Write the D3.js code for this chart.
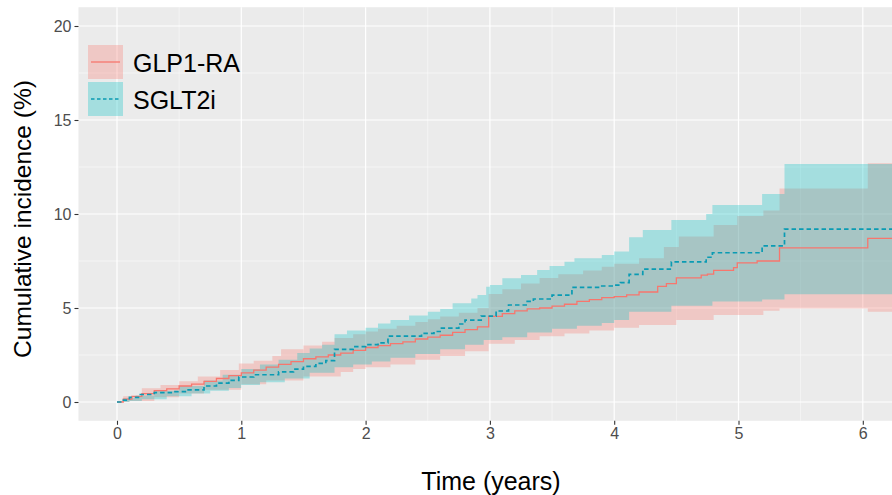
<!DOCTYPE html>
<html>
<head>
<meta charset="utf-8">
<script src="https://cdn.jsdelivr.net/npm/d3@7"></script>
<style>
  body { margin: 0; background: #fff; }
  svg { display: block; font-family: "Liberation Sans", Arial, sans-serif; }
</style>
</head>
<body>
<svg id="chart" width="892" height="495"></svg>
<script>
// cumulative incidence, step values (time in years, value in %)
const seriesNames = ["GLP1-RA", "SGLT2i"];

const glpEstTime = [0, 0.05, 0.12, 0.2, 0.3, 0.4, 0.5, 0.6, 0.7, 0.8, 0.9, 1.0, 1.1, 1.2, 1.3, 1.4, 1.5, 1.6, 1.7, 1.8, 1.9, 2.0, 2.1, 2.2, 2.3, 2.4, 2.5, 2.6, 2.7, 2.8, 2.9, 2.99, 3.1, 3.2, 3.3, 3.4, 3.5, 3.6, 3.7, 3.8, 3.9, 4.0, 4.1, 4.2, 4.35, 4.42, 4.5, 4.7, 4.75, 4.8, 4.96, 4.99, 5.15, 5.33, 6.04, 6.4];
const glpEst = [0, 0.15, 0.3, 0.45, 0.6, 0.7, 0.85, 0.95, 1.1, 1.25, 1.4, 1.55, 1.7, 1.85, 2.0, 2.15, 2.3, 2.4, 2.5, 2.6, 2.75, 2.9, 3.0, 3.1, 3.2, 3.35, 3.45, 3.55, 3.7, 3.85, 4.0, 4.55, 4.7, 4.85, 4.95, 5.0, 5.1, 5.2, 5.35, 5.45, 5.55, 5.6, 5.7, 5.85, 6.15, 6.3, 6.6, 6.75, 6.8, 7.0, 7.15, 7.4, 7.5, 8.2, 8.7, 8.7];

const glpHiTime = [0, 0.05, 0.2, 0.35, 0.5, 0.65, 0.83, 0.98, 1.1, 1.25, 1.32, 1.5, 1.65, 1.75, 1.9, 2.0, 2.1, 2.25, 2.4, 2.5, 2.6, 2.75, 2.9, 2.99, 3.1, 3.25, 3.4, 3.55, 3.75, 3.9, 4.0, 4.2, 4.4, 4.52, 4.8, 4.99, 5.2, 5.33, 6.04, 6.4];
const glpHi = [0, 0.3, 0.73, 0.9, 1.1, 1.35, 1.7, 2.05, 2.2, 2.45, 2.8, 3.0, 3.2, 3.4, 3.6, 3.75, 3.9, 4.05, 4.25, 4.4, 4.55, 4.75, 5.0, 5.75, 6.0, 6.3, 6.6, 6.8, 7.0, 7.2, 7.35, 7.64, 8.24, 8.8, 9.41, 9.89, 10.18, 11.36, 12.7, 12.7];

const glpLoTime = [0, 0.1, 0.3, 0.5, 0.7, 1.0, 1.2, 1.5, 1.8, 1.9, 2.0, 2.2, 2.4, 2.6, 2.8, 2.99, 3.2, 3.4, 3.6, 3.8, 4.0, 4.2, 4.5, 4.8, 5.2, 5.33, 6.04, 6.4];
const glpLo = [0, 0.05, 0.25, 0.45, 0.65, 0.95, 1.15, 1.35, 1.6, 1.75, 1.85, 2.0, 2.25, 2.45, 2.7, 3.1, 3.3, 3.5, 3.65, 3.8, 3.95, 4.1, 4.36, 4.63, 4.86, 4.98, 4.8, 4.8];

const sgltEstTime = [0, 0.04, 0.1, 0.18, 0.3, 0.45, 0.56, 0.7, 0.8, 0.9, 0.98, 1.1, 1.3, 1.42, 1.5, 1.6, 1.68, 1.75, 1.9, 2.0, 2.1, 2.18, 2.45, 2.55, 2.6, 2.75, 2.8, 2.93, 3.05, 3.15, 3.3, 3.35, 3.5, 3.66, 3.9, 4.0, 4.05, 4.12, 4.23, 4.46, 4.74, 4.79, 5.19, 5.37, 6.4];
const sgltEst = [0, 0.1, 0.25, 0.4, 0.5, 0.55, 0.65, 0.85, 1.0, 1.15, 1.33, 1.45, 1.6, 1.75, 1.9, 2.05, 2.2, 2.8, 2.95, 3.05, 3.15, 3.5, 3.65, 3.75, 3.93, 4.15, 4.36, 4.57, 4.84, 5.16, 5.35, 5.48, 5.69, 6.1, 6.17, 6.22, 6.35, 6.79, 7.07, 7.45, 7.7, 7.94, 8.3, 9.2, 9.2];

const sgltHiTime = [0, 0.05, 0.15, 0.3, 0.5, 0.7, 0.85, 1.0, 1.15, 1.3, 1.45, 1.55, 1.65, 1.75, 1.85, 2.0, 2.1, 2.2, 2.35, 2.5, 2.6, 2.7, 2.85, 2.9, 2.97, 3.0, 3.1, 3.25, 3.38, 3.48, 3.6, 3.68, 3.9, 4.0, 4.12, 4.23, 4.46, 4.74, 4.79, 5.19, 5.37, 6.4];
const sgltHi = [0, 0.2, 0.35, 0.6, 0.85, 1.15, 1.45, 1.75, 2.0, 2.25, 2.6, 2.85, 3.05, 3.6, 3.8, 3.95, 4.18, 4.36, 4.6, 4.8, 4.95, 5.25, 5.5, 5.69, 6.13, 6.22, 6.58, 6.76, 7.02, 7.23, 7.46, 7.64, 7.82, 8.0, 8.76, 9.15, 9.68, 10.0, 10.48, 11.06, 12.66, 12.66];

const sgltLoTime = [0, 0.1, 0.2, 0.4, 0.6, 0.75, 0.9, 1.0, 1.15, 1.35, 1.55, 1.75, 1.9, 2.05, 2.2, 2.4, 2.6, 2.8, 2.95, 3.1, 3.3, 3.5, 3.7, 3.9, 4.0, 4.12, 4.46, 4.79, 5.19, 5.37, 6.4];
const sgltLo = [0, 0.05, 0.15, 0.3, 0.45, 0.6, 0.75, 0.9, 1.05, 1.25, 1.55, 1.85, 2.0, 2.15, 2.35, 2.55, 2.8, 3.05, 3.3, 3.45, 3.7, 3.9, 4.05, 4.2, 4.36, 4.8, 5.12, 5.34, 5.45, 5.73, 5.73];

const xTicks = [0, 1, 2, 3, 4, 5, 6];
const yTicks = [0, 5, 10, 15, 20];

const colors = ["#F8766D", "#00BFC4"];
const lineColors = ["#F8766D", "#0A9BB3"];

// build a step table that holds lo / hi at every change time
function stepTable(parts) {
  const times = Array.from(new Set(parts.flatMap(p => p.t))).sort((a, b) => a - b);
  return times.map(t => {
    const row = { t: t };
    parts.forEach(p => {
      let v = p.v[0];
      for (let i = 0; i < p.t.length; i++) { if (p.t[i] <= t) v = p.v[i]; }
      row[p.key] = v;
    });
    return row;
  });
}

const bandData = [
  stepTable([{ key: "lo", t: glpLoTime, v: glpLo }, { key: "hi", t: glpHiTime, v: glpHi }]),
  stepTable([{ key: "lo", t: sgltLoTime, v: sgltLo }, { key: "hi", t: sgltHiTime, v: sgltHi }])
];
const lineData = [
  glpEstTime.map((t, i) => ({ t: t, v: glpEst[i] })),
  sgltEstTime.map((t, i) => ({ t: t, v: sgltEst[i] }))
];

const svg = d3.select("#chart");

const x = d3.scaleLinear().domain([0, 6]).range([117, 862.8]);
const y = d3.scaleLinear().domain([0, 20]).range([402, 26]);

const panelLeft = x(-0.31), panelRight = x(6.51);
const panelTop = y(21), panelBottom = y(-1);

svg.append("defs").append("clipPath").attr("id", "panelClip")
  .append("rect")
  .attr("x", panelLeft).attr("y", panelTop)
  .attr("width", panelRight - panelLeft).attr("height", panelBottom - panelTop);

svg.append("rect")
  .attr("x", panelLeft).attr("y", panelTop)
  .attr("width", panelRight - panelLeft).attr("height", panelBottom - panelTop)
  .attr("fill", "#EBEBEB");

const grid = svg.append("g");
// minor grid
d3.range(-0.5, 7, 1).forEach(t => {
  grid.append("line").attr("x1", x(t)).attr("x2", x(t)).attr("y1", panelTop).attr("y2", panelBottom)
    .attr("stroke", "#fff").attr("stroke-width", 0.6).attr("opacity", 0.85);
});
d3.range(2.5, 21, 5).forEach(v => {
  grid.append("line").attr("x1", panelLeft).attr("x2", panelRight).attr("y1", y(v)).attr("y2", y(v))
    .attr("stroke", "#fff").attr("stroke-width", 0.6).attr("opacity", 0.85);
});
// major grid
xTicks.forEach(t => {
  grid.append("line").attr("x1", x(t)).attr("x2", x(t)).attr("y1", panelTop).attr("y2", panelBottom)
    .attr("stroke", "#fff").attr("stroke-width", 1.2);
});
yTicks.forEach(v => {
  grid.append("line").attr("x1", panelLeft).attr("x2", panelRight).attr("y1", y(v)).attr("y2", y(v))
    .attr("stroke", "#fff").attr("stroke-width", 1.2);
});

const plot = svg.append("g").attr("clip-path", "url(#panelClip)");

const area = d3.area()
  .curve(d3.curveStepAfter)
  .x(d => x(d.t))
  .y0(d => y(d.lo))
  .y1(d => y(d.hi));

bandData.forEach((data, i) => {
  plot.append("path").datum(data)
    .attr("d", area)
    .attr("fill", colors[i])
    .attr("fill-opacity", 0.3);
});

const line = d3.line()
  .curve(d3.curveStepAfter)
  .x(d => x(d.t))
  .y(d => y(d.v));

lineData.forEach((data, i) => {
  plot.append("path").datum(data)
    .attr("d", line)
    .attr("fill", "none")
    .attr("stroke", lineColors[i])
    .attr("stroke-width", i === 0 ? 1.3 : 1.7)
    .attr("stroke-dasharray", i === 0 ? null : "4.5,3");
});

// axes
const xAxis = svg.append("g")
  .attr("transform", `translate(0,${panelBottom})`)
  .call(d3.axisBottom(x).tickValues(xTicks).tickSize(4).tickPadding(3).tickFormat(d3.format("d")));
const yAxis = svg.append("g")
  .attr("transform", `translate(${panelLeft},0)`)
  .call(d3.axisLeft(y).tickValues(yTicks).tickSize(4).tickPadding(3).tickFormat(d3.format("d")));

[xAxis, yAxis].forEach(g => {
  g.select(".domain").remove();
  g.selectAll(".tick line").attr("stroke", "#333").attr("stroke-width", 1.1);
  g.selectAll(".tick text")
    .attr("fill", "#4D4D4D")
    .attr("font-size", 16)
    .attr("font-family", "Liberation Sans, Arial, sans-serif");
});

svg.append("text")
  .attr("x", 491).attr("y", 490)
  .attr("text-anchor", "middle")
  .attr("font-size", 25)
  .attr("fill", "#000")
  .text("Time (years)");

svg.append("text")
  .attr("transform", "translate(31,219) rotate(-90)")
  .attr("text-anchor", "middle")
  .attr("font-size", 24.5)
  .attr("fill", "#000")
  .text("Cumulative incidence (%)");

// legend inside the panel
const legend = svg.append("g").attr("transform", "translate(88,45)");
seriesNames.forEach((name, i) => {
  const g = legend.append("g").attr("transform", `translate(0,${i * 37})`);
  g.append("rect").attr("width", 35).attr("height", 34)
    .attr("fill", colors[i]).attr("fill-opacity", 0.3);
  g.append("line").attr("x1", 3).attr("x2", 32).attr("y1", 17).attr("y2", 17)
    .attr("stroke", lineColors[i])
    .attr("stroke-width", i === 0 ? 1.3 : 1.7)
    .attr("stroke-dasharray", i === 0 ? null : "3.5,2.5");
  g.append("text").attr("x", 45).attr("y", 26.5)
    .attr("font-size", 25)
    .attr("fill", "#000")
    .text(name);
});
</script>
</body>
</html>
